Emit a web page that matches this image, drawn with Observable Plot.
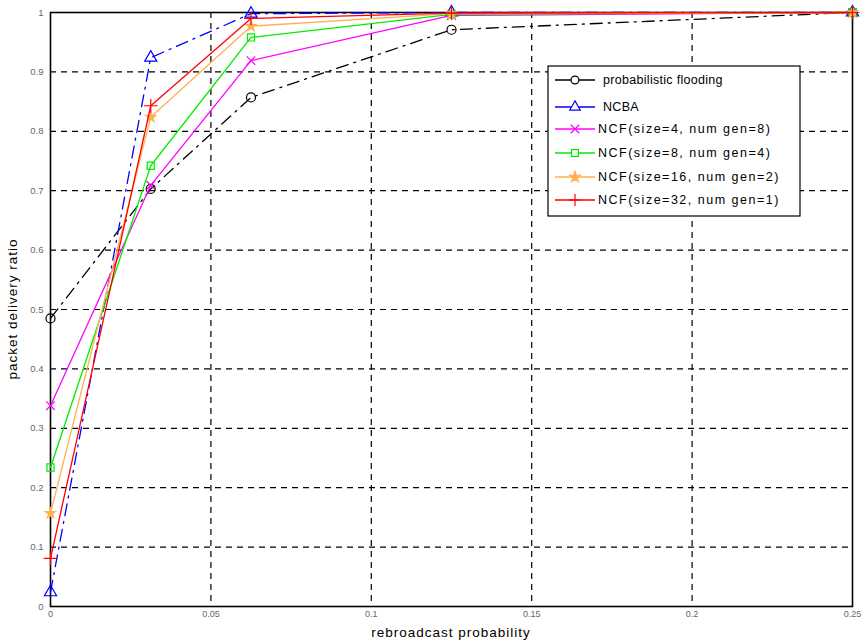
<!DOCTYPE html>
<html>
<head>
<meta charset="utf-8">
<script src="https://cdn.jsdelivr.net/npm/d3@7"></script>
<script src="https://cdn.jsdelivr.net/npm/@observablehq/plot@0.6"></script>
<style>
  html, body { margin: 0; padding: 0; background: #fff; }
  #chart { position: relative; width: 862px; height: 641px; }
  svg { font-family: "Liberation Sans", Arial, sans-serif; }
</style>
</head>
<body>
<div id="chart"></div>
<script>
// Rebroadcast probabilities at which each scheme was simulated
const probs = [0, 0.03125, 0.0625, 0.125, 0.25];

// Packet delivery ratio per scheme
const flooding = [0.485, 0.703, 0.857, 0.971, 1.0];
const ncba     = [0.024, 0.924, 0.998, 1.0, 1.0];
const ncf4     = [0.338, 0.709, 0.919, 0.995, 1.0];
const ncf8     = [0.234, 0.742, 0.958, 0.997, 1.0];
const ncf16    = [0.157, 0.824, 0.977, 0.998, 1.0];
const ncf32    = [0.081, 0.843, 0.990, 0.999, 1.0];

const seriesNames = [
  "probabilistic flooding",
  "NCBA",
  "NCF(size=4, num gen=8)",
  "NCF(size=8, num gen=4)",
  "NCF(size=16, num gen=2)",
  "NCF(size=32, num gen=1)"
];

// Axis ticks and titles
const xTicks = [0, 0.05, 0.1, 0.15, 0.2, 0.25];
const xTickLabels = ["0", "0.05", "0.1", "0.15", "0.2", "0.25"];
const yTicks = [0, 0.1, 0.2, 0.3, 0.4, 0.5, 0.6, 0.7, 0.8, 0.9, 1];
const yTickLabels = ["0", "0.1", "0.2", "0.3", "0.4", "0.5", "0.6", "0.7", "0.8", "0.9", "1"];
const xTitle = "rebroadcast probability";
const yTitle = "packet delivery ratio";

// Line style per series
const styles = [
  {values: flooding, color: "#000000", dash: "12,6,2,6", symbol: "circle", fill: "none", r: 4.5},
  {values: ncba,     color: "#0000ff", dash: "12,6,2,6", symbol: "triangle", fill: "none", r: 4.5},
  {values: ncf4,     color: "#ff00ff", dash: null, symbol: "times", fill: "none", r: 4},
  {values: ncf8,     color: "#00ee00", dash: null, symbol: "square", fill: "none", r: 4},
  {values: ncf16,    color: "#ffb050", dash: null, symbol: "star", fill: "#ffb050", r: 3.2},
  {values: ncf32,    color: "#ff0000", dash: null, symbol: "plus", fill: "none", r: 4.5}
];

const series = styles.map((s, i) => ({
  ...s,
  name: seriesNames[i],
  rows: probs.map((p, j) => ({p, v: s.values[j]}))
}));

const xFmt = d => xTickLabels[xTicks.indexOf(d)] ?? String(d);
const yFmt = d => yTickLabels[yTicks.findIndex(t => Math.abs(t - d) < 1e-9)] ?? String(d);

const marks = [
  // dashed grid at inner ticks
  Plot.ruleX(xTicks.slice(1, -1), {stroke: "#000", strokeWidth: 1.2, strokeDasharray: "6,5"}),
  Plot.ruleY(yTicks.slice(1, -1), {stroke: "#000", strokeWidth: 1.2, strokeDasharray: "6,5"}),
  // tick labels
  Plot.axisX({ticks: xTicks, tickFormat: xFmt, tickSize: 0, tickPadding: 4, fontSize: 9, fill: "#666", label: null}),
  Plot.axisY({ticks: yTicks, tickFormat: yFmt, tickSize: 0, tickPadding: 7, fontSize: 9.5, fill: "#666", label: null}),
  Plot.frame({stroke: "#000", strokeWidth: 1.6})
];

for (const s of series) {
  marks.push(Plot.line(s.rows, {x: "p", y: "v", stroke: s.color, strokeWidth: 1.3,
    strokeDasharray: s.dash ?? undefined}));
  marks.push(Plot.dot(s.rows, {x: "p", y: "v", symbol: () => s.symbol, stroke: s.color,
    fill: s.fill, r: s.r, strokeWidth: 1.2}));
}

const chart = Plot.plot({
  width: 862,
  height: 641,
  marginLeft: 50,
  marginRight: 10,
  marginTop: 12,
  marginBottom: 35,
  style: {fontFamily: "'Liberation Sans', Arial, sans-serif", background: "#fff", overflow: "visible"},
  x: {domain: [0, 0.25]},
  y: {domain: [0, 1]},
  symbol: {type: "identity"},
  marks
});

document.getElementById("chart").appendChild(chart);

// Axis titles centred on the plot frame
const [x0, x1] = chart.scale("x").range;
const [y0, y1] = chart.scale("y").range;
const svg = d3.select(chart);
svg.append("text")
  .attr("x", (x0 + x1) / 2).attr("y", 637)
  .attr("text-anchor", "middle").attr("font-size", 13.5).attr("letter-spacing", 1).attr("fill", "#000")
  .text(xTitle);
svg.append("text")
  .attr("transform", `translate(17,${(y0 + y1) / 2}) rotate(-90)`)
  .attr("text-anchor", "middle").attr("font-size", 13.5).attr("letter-spacing", 1).attr("fill", "#000")
  .text(yTitle);

// Legend box inside the plot area
const legend = svg.append("g").attr("transform", "translate(548,66)");
legend.append("rect").attr("width", 252).attr("height", 150)
  .attr("fill", "#fff").attr("stroke", "#000").attr("stroke-width", 1.2);
const rowY = [14, 41, 63, 87, 111, 134];
const symMap = {circle: d3.symbolCircle, triangle: d3.symbolTriangle, times: d3.symbolTimes,
  square: d3.symbolSquare, star: d3.symbolStar, plus: d3.symbolPlus};
series.forEach((s, i) => {
  const g = legend.append("g").attr("transform", `translate(0,${rowY[i]})`);
  g.append("line").attr("x1", 7).attr("x2", 47).attr("y1", 0).attr("y2", 0)
    .attr("stroke", s.color).attr("stroke-width", 1.3);
  g.append("path").attr("transform", "translate(27,0)")
    .attr("d", d3.symbol(symMap[s.symbol], s.symbol === "star" ? 36 : 48)())
    .attr("stroke", s.color).attr("fill", s.fill === "none" ? "#fff" : s.fill).attr("stroke-width", 1.2);
  g.append("text").attr("x", i < 2 ? 55 : 50).attr("y", 0).attr("dy", "0.35em")
    .attr("text-anchor", "start").attr("letter-spacing", i < 2 ? 0.3 : 1.5)
    .attr("font-size", 12.5).attr("fill", "#000").text(s.name);
});
</script>
</body>
</html>
